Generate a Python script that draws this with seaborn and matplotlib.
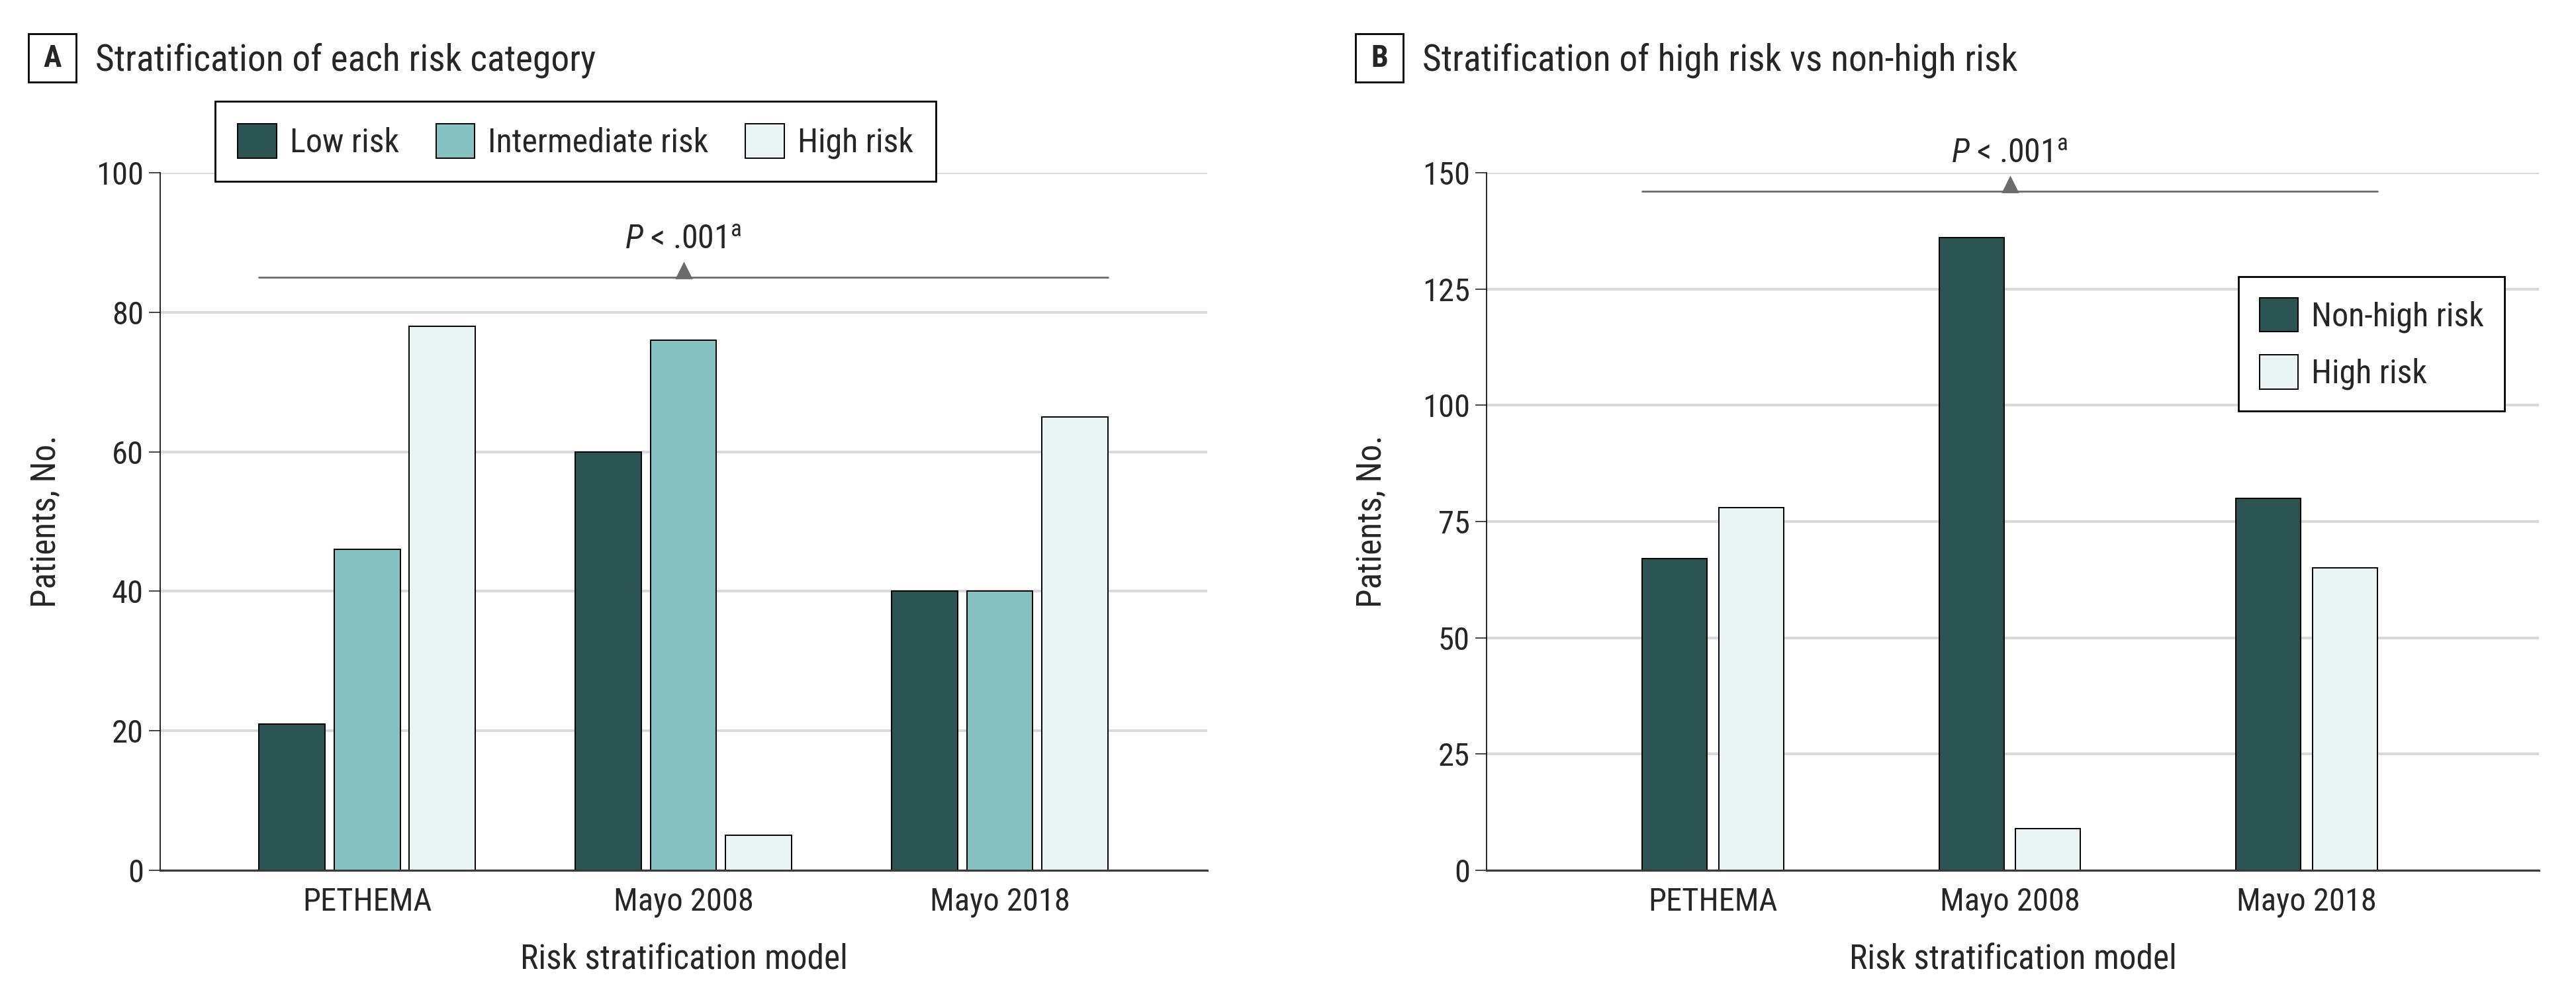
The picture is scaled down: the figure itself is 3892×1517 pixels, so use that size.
import matplotlib
matplotlib.use('Agg')
import matplotlib.pyplot as plt
import matplotlib.transforms as mtransforms
from matplotlib import font_manager
from matplotlib.patches import Rectangle
import pandas as pd
import seaborn as sns

# categories on the x axis (shared by both panels)
models = ['PETHEMA', 'Mayo 2008', 'Mayo 2018']

# panel A - each risk category
risk_cats = ['Low risk', 'Intermediate risk', 'High risk']
low_risk = [21, 60, 40]
intermediate_risk = [46, 76, 40]
high_risk = [78, 5, 65]

# panel B - high risk vs non-high risk
binary_cats = ['Non-high risk', 'High risk']
non_high_risk = [67, 136, 80]
high_risk_b = [78, 9, 65]

yticks_a = [0, 20, 40, 60, 80, 100]
yticks_b = [0, 25, 50, 75, 100, 125, 150]

p_text = r'$\mathit{P}$ < .001$^{\mathrm{a}}$'

colors_a = ['#2b5453', '#86c2c1', '#eaf3f4']
colors_b = ['#2b5453', '#eaf3f4']

sns.set_style('white')

# pick a narrow font if there is one
installed = {f.name for f in font_manager.fontManager.ttflist}
font = 'DejaVu Sans'
for name in ['Liberation Sans Narrow', 'DejaVu Sans Condensed', 'Roboto Condensed', 'Liberation Sans']:
    if name in installed:
        font = name
        break
plt.rcParams['font.family'] = [font, 'DejaVu Sans']
plt.rcParams['mathtext.fontset'] = 'custom'
plt.rcParams['mathtext.rm'] = font
plt.rcParams['mathtext.it'] = font + ':italic'

df_a = pd.DataFrame({
    'model': models * 3,
    'risk': [c for c in risk_cats for _ in models],
    'patients': low_risk + intermediate_risk + high_risk,
})
df_b = pd.DataFrame({
    'model': models * 2,
    'risk': [c for c in binary_cats for _ in models],
    'patients': non_high_risk + high_risk_b,
})

W, H = 3892, 1517
fig = plt.figure(figsize=(W / 200, H / 200), dpi=200)
ax_a = fig.add_axes([242 / W, 1 - 1315 / H, (1824 - 242) / W, (1315 - 261) / H])
ax_b = fig.add_axes([2246 / W, 1 - 1315 / H, (3836 - 2246) / W, (1315 - 261) / H])

sns.barplot(data=df_a, x='model', y='patients', hue='risk', palette=colors_a,
            width=0.7125, gap=0.12, edgecolor='black', linewidth=0.7,
            saturation=1, ax=ax_a)
sns.barplot(data=df_b, x='model', y='patients', hue='risk', palette=colors_b,
            width=0.517, gap=0.155, edgecolor='black', linewidth=0.7,
            saturation=1, ax=ax_b)


def style_axis(ax, yticks, xlim):
    ax.set_xlim(*xlim)
    ax.set_ylim(yticks[0], yticks[-1])
    ax.set_yticks(yticks)
    ax.set_axisbelow(True)
    ax.yaxis.grid(True, color='#d9d9d9', linewidth=1.5)
    ax.xaxis.grid(False)
    for s in ['top', 'right']:
        ax.spines[s].set_visible(False)
    ax.spines['left'].set_linewidth(0.6)
    ax.spines['left'].set_color('black')
    ax.spines['bottom'].set_linewidth(1.1)
    ax.spines['bottom'].set_color('#3a3a3a')
    ax.tick_params(axis='y', length=6, width=0.6, pad=3, labelsize=17.5, left=True)
    ax.tick_params(axis='x', length=0, pad=9, labelsize=17.5)
    ax.set_xlabel('Risk stratification model', fontsize=18.5)
    ax.set_ylabel('Patients, No.', fontsize=18.5)
    ax.xaxis.set_label_coords(0.5, -0.105)
    ax.yaxis.set_label_coords(-0.093, 0.5)


def p_bracket(ax, y):
    x0 = min(p.get_x() for p in ax.patches)
    x1 = max(p.get_x() + p.get_width() for p in ax.patches)
    xm = (x0 + x1) / 2
    ax.plot([x0, x1], [y, y], color='#6b6b6b', linewidth=1.0, clip_on=False)
    tri = mtransforms.offset_copy(ax.transData, fig=fig, x=0, y=3.8, units='points')
    ax.plot([xm], [y], marker='^', markersize=8, color='#6b6b6b', transform=tri,
            clip_on=False, linestyle='none')
    ax.annotate(p_text, xy=(xm, y), xytext=(0, 15.5), textcoords='offset points',
                ha='center', va='baseline', fontsize=18, annotation_clip=False)


style_axis(ax_a, yticks_a, (-0.654, 2.656))
style_axis(ax_b, yticks_b, (-0.763, 2.783))
p_bracket(ax_a, 85)
p_bracket(ax_b, 146)

# legends
h_a, l_a = ax_a.get_legend_handles_labels()
leg_a = ax_a.legend(h_a, l_a, loc='upper left', bbox_to_anchor=(325 / W, 1 - 153 / H),
                    bbox_transform=fig.transFigure, ncol=3, fontsize=18,
                    handlelength=1.17, handleheight=1.22, handletextpad=0.4,
                    columnspacing=1.12, borderpad=0.68, borderaxespad=0,
                    frameon=True, fancybox=False, framealpha=1, edgecolor='black')
leg_a.get_frame().set_linewidth(1.0)
h_b, l_b = ax_b.get_legend_handles_labels()
leg_b = ax_b.legend(h_b, l_b, loc='upper left', bbox_to_anchor=(3382 / W, 1 - 418 / H),
                    bbox_transform=fig.transFigure, ncol=1, fontsize=18,
                    handlelength=1.17, handleheight=1.22, handletextpad=0.4,
                    labelspacing=0.66, borderpad=0.63, borderaxespad=0,
                    frameon=True, fancybox=False, framealpha=1, edgecolor='black')
leg_b.get_frame().set_linewidth(1.0)

# panel letters and titles
for letter, bx, tx, title in [('A', 43, 144, 'Stratification of each risk category'),
                              ('B', 2048, 2149, 'Stratification of high risk vs non-high risk')]:
    fig.patches.append(Rectangle((bx / W, 1 - 124 / H), 72 / W, 73 / H, transform=fig.transFigure,
                                 facecolor='white', edgecolor='black', linewidth=1.0))
    fig.text((bx + 36) / W, 1 - 88 / H, letter, ha='center', va='center',
             fontsize=16.5, fontweight='bold')
    fig.text(tx / W, 1 - 107 / H, title, ha='left', va='baseline', fontsize=20)

fig.savefig('out.png', dpi=200)
